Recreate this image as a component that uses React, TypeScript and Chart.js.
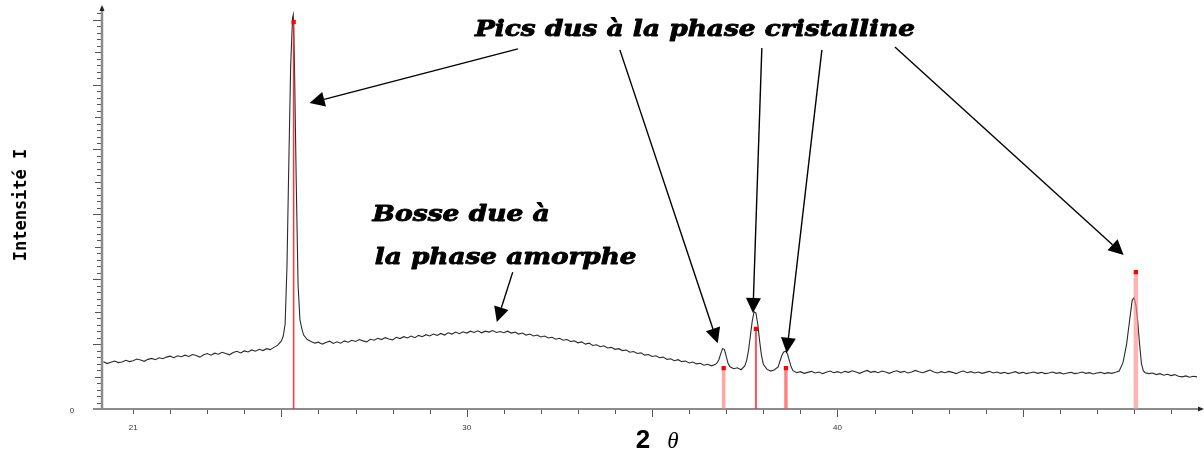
import { useEffect, useRef } from "react";
import { Chart, registerables } from "chart.js";

Chart.register(...registerables);

// ---- Data (2θ in degrees, intensity in arbitrary units) ----
const twoTheta = [
  20.2, 20.3, 20.4, 20.5, 20.6, 20.7, 20.8, 20.9,
  21.0, 21.1, 21.2, 21.3, 21.4, 21.5, 21.6, 21.7, 21.8, 21.9,
  22.0, 22.1, 22.2, 22.3, 22.4, 22.5, 22.6, 22.7, 22.8, 22.9,
  23.0, 23.1, 23.2, 23.3, 23.4, 23.5, 23.6, 23.7, 23.8, 23.9,
  24.0, 24.1, 24.2, 24.3, 24.4, 24.5, 24.6, 24.7, 24.8, 24.9,
  25.0, 25.05, 25.1, 25.15, 25.2, 25.25, 25.3, 25.32, 25.35, 25.4, 25.45, 25.5, 25.55, 25.6, 25.7, 25.8, 25.9,
  26.0, 26.1, 26.2, 26.3, 26.4, 26.5, 26.6, 26.7, 26.8, 26.9,
  27.0, 27.1, 27.2, 27.3, 27.4, 27.5, 27.6, 27.7, 27.8, 27.9,
  28.0, 28.1, 28.2, 28.3, 28.4, 28.5, 28.6, 28.7, 28.8, 28.9,
  29.0, 29.1, 29.2, 29.3, 29.4, 29.5, 29.6, 29.7, 29.8, 29.9,
  30.0, 30.1, 30.2, 30.3, 30.4, 30.5, 30.6, 30.7, 30.8, 30.9,
  31.0, 31.1, 31.2, 31.3, 31.4, 31.5, 31.6, 31.7, 31.8, 31.9,
  32.0, 32.1, 32.2, 32.3, 32.4, 32.5, 32.6, 32.7, 32.8, 32.9,
  33.0, 33.1, 33.2, 33.3, 33.4, 33.5, 33.6, 33.7, 33.8, 33.9,
  34.0, 34.1, 34.2, 34.3, 34.4, 34.5, 34.6, 34.7, 34.8, 34.9,
  35.0, 35.1, 35.2, 35.3, 35.4, 35.5, 35.6, 35.7, 35.8, 35.9,
  36.0, 36.1, 36.2, 36.3, 36.4, 36.5, 36.6, 36.7, 36.75, 36.8, 36.85, 36.9, 36.95,
  37.0, 37.05, 37.1, 37.2, 37.3, 37.4, 37.5, 37.55, 37.6, 37.65, 37.7, 37.75, 37.8, 37.85, 37.9, 37.95,
  38.0, 38.1, 38.2, 38.3, 38.4, 38.45, 38.5, 38.55, 38.6, 38.65, 38.7, 38.75, 38.8, 38.9,
  39.0, 39.1, 39.2, 39.3, 39.4, 39.5, 39.6, 39.7, 39.8, 39.9,
  40.0, 40.1, 40.2, 40.3, 40.4, 40.5, 40.6, 40.7, 40.8, 40.9,
  41.0, 41.1, 41.2, 41.3, 41.4, 41.5, 41.6, 41.7, 41.8, 41.9,
  42.0, 42.1, 42.2, 42.3, 42.4, 42.5, 42.6, 42.7, 42.8, 42.9,
  43.0, 43.1, 43.2, 43.3, 43.4, 43.5, 43.6, 43.7, 43.8, 43.9,
  44.0, 44.1, 44.2, 44.3, 44.4, 44.5, 44.6, 44.7, 44.8, 44.9,
  45.0, 45.1, 45.2, 45.3, 45.4, 45.5, 45.6, 45.7, 45.8, 45.9,
  46.0, 46.1, 46.2, 46.3, 46.4, 46.5, 46.6, 46.7, 46.8, 46.9,
  47.0, 47.1, 47.2, 47.3, 47.4, 47.5, 47.6, 47.7, 47.75, 47.8, 47.85, 47.9, 47.95,
  48.0, 48.05, 48.1, 48.15, 48.2, 48.25, 48.3, 48.4, 48.5, 48.6, 48.7, 48.8, 48.9,
  49.0, 49.1, 49.2, 49.3, 49.4, 49.5, 49.6, 49.7,
];

const intensity = [
  146, 140, 144, 148, 143, 145, 150, 146,
  149, 154, 151, 147, 153, 156, 152, 158, 155, 160,
  163, 158, 164, 161, 166, 162, 168, 165, 160, 167,
  171, 166, 172, 169, 175, 171, 167, 174, 178, 173,
  179, 176, 182, 178, 184, 180, 186, 183, 190, 197,
  210, 225, 262, 440, 760, 1060, 1205, 1215, 1076, 700, 380, 275, 248, 228, 214, 208, 203,
  206, 200, 205, 209, 202, 207, 203, 210, 206, 212,
  208, 214, 210, 207, 215, 212, 218, 214, 220, 216,
  213, 221, 217, 223, 219, 225, 220, 227, 223, 229,
  225, 231, 227, 233, 228, 235, 231, 237, 232, 238,
  234, 240, 236, 241, 235, 240, 237, 242, 236, 239,
  235, 240, 234, 237, 231, 234, 228, 231, 225, 228,
  222, 225, 219, 221, 215, 218, 212, 214, 208, 210,
  204, 207, 200, 203, 196, 198, 192, 195, 188, 190,
  184, 186, 180, 182, 175, 177, 171, 173, 166, 168,
  162, 164, 158, 160, 153, 155, 149, 152, 146, 148,
  142, 145, 139, 141, 135, 138, 133, 137, 142, 152, 170, 186, 184,
  162, 140, 130, 124, 127, 121, 133, 150, 180, 225, 270, 300, 296, 262, 210, 165,
  138, 122, 117, 121, 130, 148, 165, 176, 178, 170, 150, 130, 118, 112,
  115, 110, 113, 116, 111, 114, 109, 113, 117, 112,
  115, 111, 116, 113, 118, 114, 110, 115, 119, 113,
  116, 112, 117, 114, 110, 115, 118, 113, 116, 111,
  114, 119, 115, 112, 116, 120, 114, 111, 115, 112,
  116, 113, 109, 114, 117, 112, 115, 111, 114, 110,
  113, 116, 111, 114, 110, 113, 109, 112, 115, 110,
  113, 109, 112, 114, 110, 113, 109, 111, 114, 110,
  112, 108, 111, 113, 109, 111, 114, 110, 112, 108,
  111, 113, 109, 112, 110, 113, 117, 142, 170, 200, 245, 290, 335,
  343, 320, 270, 200, 140, 118, 112, 109, 111, 106, 109, 104, 107,
  103, 106, 101, 99, 102, 98, 101, 99,
];

// Reference (database) lines: positions and relative heights
const refPositions = [25.33, 36.93, 37.8, 38.61, 48.05];
const refHeights = [1193, 126, 247, 126, 422];

// Tick labels
const xTickLabels = [21, 30, 40];
const yTickLabels = [0];

// Annotations (data coordinates)
const arrowFrom = [
  [31.38, 1110],
  [34.13, 1107],
  [37.96, 1113],
  [39.58, 1107],
  [41.55, 1116],
  [31.24, 422],
];
const arrowTo = [
  [25.76, 943],
  [36.77, 203],
  [37.72, 296],
  [38.63, 173],
  [47.72, 475],
  [30.81, 268],
];
const noteTexts = ["Pics dus à la phase cristalline", "Bosse due à", "la phase amorphe"];
const noteStart = [[30.22, 1168], [27.46, 598], [27.52, 466]];
const noteEnd = [42.09, 32.24, 34.58];

// ---- Styles / ranges ----
const X_MIN = 20.16;
const X_MAX = 49.78;
const Y_MAX = 1230;
const refStyles = [
  { color: "rgba(255,30,30,0.9)", width: 1.5 },
  { color: "rgba(255,130,130,0.7)", width: 3.5 },
  { color: "rgba(255,50,50,0.85)", width: 2 },
  { color: "rgba(255,80,80,0.7)", width: 3.5 },
  { color: "rgba(255,140,140,0.65)", width: 4.5 },
];

const axesPlugin = {
  id: "xrdAxes",
  beforeDatasetsDraw(chart: any) {
    const { ctx, chartArea, scales } = chart;
    const xs = scales.x;
    const ys = scales.y;
    const x0 = xs.getPixelForValue(X_MIN);
    const y0 = ys.getPixelForValue(0);
    ctx.save();
    // y minor/major ticks
    ctx.strokeStyle = "#555";
    ctx.lineWidth = 1;
    for (let v = 0; v <= Y_MAX; v += 20) {
      const py = Math.round(ys.getPixelForValue(v)) + 0.5;
      const len = v % 200 === 0 ? 8 : v % 100 === 0 ? 6 : 4;
      ctx.beginPath();
      ctx.moveTo(x0 - 1, py);
      ctx.lineTo(x0 - 1 - len, py);
      ctx.stroke();
    }
    // x ticks
    for (let v = Math.ceil(X_MIN); v <= X_MAX; v += 1) {
      const px = Math.round(xs.getPixelForValue(v)) + 0.5;
      const len = v % 5 === 0 ? 7 : 4;
      ctx.beginPath();
      ctx.moveTo(px, y0 + 1);
      ctx.lineTo(px, y0 + 1 + len);
      ctx.stroke();
    }
    // axis lines
    ctx.strokeStyle = "#8c8c8c";
    ctx.lineWidth = 2.5;
    ctx.beginPath();
    ctx.moveTo(x0, y0);
    ctx.lineTo(x0, chartArea.top - 3);
    ctx.stroke();
    ctx.lineWidth = 2;
    ctx.beginPath();
    ctx.moveTo(x0 - 9, y0);
    ctx.lineTo(chartArea.right + 1, y0);
    ctx.stroke();
    // small arrow tips
    ctx.fillStyle = "#222";
    ctx.beginPath();
    ctx.moveTo(x0, chartArea.top - 5);
    ctx.lineTo(x0 - 2.5, chartArea.top + 1);
    ctx.lineTo(x0 + 2.5, chartArea.top + 1);
    ctx.closePath();
    ctx.fill();
    ctx.beginPath();
    ctx.moveTo(chartArea.right + 4, y0);
    ctx.lineTo(chartArea.right - 2, y0 - 2.5);
    ctx.lineTo(chartArea.right - 2, y0 + 2.5);
    ctx.closePath();
    ctx.fill();
    // tick labels
    ctx.fillStyle = "#333";
    ctx.font = '8px "Liberation Sans"';
    ctx.textAlign = "center";
    ctx.textBaseline = "middle";
    xTickLabels.forEach((v) => {
      ctx.fillText(String(v), xs.getPixelForValue(v), y0 + 19);
    });
    yTickLabels.forEach((v) => {
      ctx.fillText(String(v), x0 - 30, ys.getPixelForValue(v) + 2);
    });
    // axis titles
    ctx.fillStyle = "#000";
    ctx.save();
    ctx.translate(22, 205);
    ctx.rotate(-Math.PI / 2);
    ctx.font = 'bold 17px "DejaVu Sans Mono"';
    ctx.textAlign = "center";
    ctx.textBaseline = "middle";
    ctx.fillText("Intensité I", 0, 0);
    ctx.restore();
    ctx.textBaseline = "alphabetic";
    ctx.font = 'bold 26px "Liberation Sans"';
    ctx.fillText("2", 643, 448);
    ctx.font = 'italic 23px "Liberation Serif"';
    ctx.fillText("θ", 673, 448);
    ctx.restore();
  },
  afterDatasetsDraw(chart: any) {
    const { ctx, scales } = chart;
    const xs = scales.x;
    const ys = scales.y;
    ctx.save();
    ctx.strokeStyle = "#000";
    ctx.fillStyle = "#000";
    ctx.lineWidth = 1.4;
    arrowFrom.forEach((f, i) => {
      const t = arrowTo[i];
      const ax = xs.getPixelForValue(f[0]);
      const ay = ys.getPixelForValue(f[1]);
      const bx = xs.getPixelForValue(t[0]);
      const by = ys.getPixelForValue(t[1]);
      const dx = bx - ax;
      const dy = by - ay;
      const d = Math.hypot(dx, dy);
      const ux = dx / d;
      const uy = dy / d;
      const head = 15;
      const half = 7.5;
      const hx = bx - ux * head;
      const hy = by - uy * head;
      ctx.beginPath();
      ctx.moveTo(ax, ay);
      ctx.lineTo(hx, hy);
      ctx.stroke();
      ctx.beginPath();
      ctx.moveTo(bx, by);
      ctx.lineTo(hx - uy * half, hy + ux * half);
      ctx.lineTo(hx + uy * half, hy - ux * half);
      ctx.closePath();
      ctx.fill();
    });
    ctx.font = 'bold italic 22px "DejaVu Serif"';
    ctx.textBaseline = "middle";
    ctx.textAlign = "left";
    ctx.lineWidth = 0.9;
    ctx.lineJoin = "round";
    noteTexts.forEach((txt, i) => {
      const px0 = xs.getPixelForValue(noteStart[i][0]);
      const py = ys.getPixelForValue(noteStart[i][1]);
      const px1 = xs.getPixelForValue(noteEnd[i]);
      const w = ctx.measureText(txt).width;
      ctx.save();
      ctx.translate(px0, py);
      ctx.scale((px1 - px0) / w, 1);
      ctx.fillText(txt, 0, 0);
      ctx.strokeText(txt, 0, 0);
      ctx.restore();
    });
    ctx.restore();
  },
};

export default function App() {
  const ref = useRef<HTMLCanvasElement | null>(null);
  useEffect(() => {
    if (!ref.current) return;
    const datasets: any[] = [
      {
        label: "Diffractogramme",
        data: twoTheta.map((x, i) => ({ x, y: intensity[i] })),
        borderColor: "#2a2a2a",
        borderWidth: 1.1,
        pointRadius: 0,
        tension: 0,
        order: 2,
      },
      ...refPositions.map((p, i) => ({
        label: "Ref " + p,
        data: [
          { x: p, y: 0 },
          { x: p, y: refHeights[i] },
        ],
        borderColor: refStyles[i].color,
        borderWidth: refStyles[i].width,
        pointRadius: [0, 3],
        pointStyle: "rect",
        pointBackgroundColor: "#ff0000",
        pointBorderWidth: 0,
        order: 1,
      })),
    ];
    const chart = new Chart(ref.current, {
      type: "line",
      data: { datasets },
      options: {
        animation: false,
        responsive: false,
        devicePixelRatio: 1,
        layout: { padding: { left: 102, right: 4, top: 10, bottom: 41 } },
        scales: {
          x: { type: "linear", min: X_MIN, max: X_MAX, display: false },
          y: { type: "linear", min: 0, max: Y_MAX, display: false },
        },
        plugins: { legend: { display: false }, tooltip: { enabled: false } },
      },
      plugins: [axesPlugin],
    } as any);
    return () => chart.destroy();
  }, []);
  return (
    <div style={{ position: "absolute", left: 0, top: 0, width: 1204, height: 450, background: "#fff" }}>
      <canvas ref={ref} width={1204} height={450} />
    </div>
  );
}
